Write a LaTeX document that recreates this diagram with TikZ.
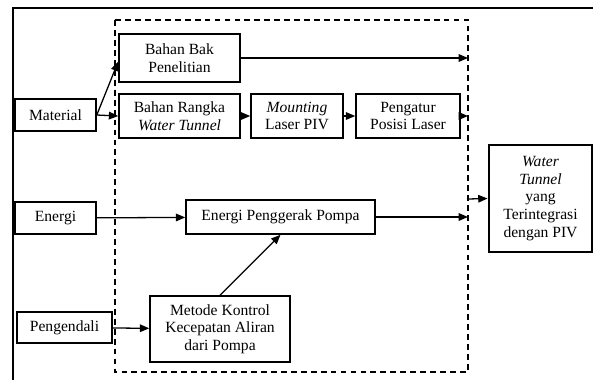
\documentclass[tikz,border=0pt]{standalone}
\usepackage{fontspec}
\setmainfont{Liberation Serif}
\usetikzlibrary{arrows.meta}

\begin{document}
\begin{tikzpicture}[x=0.03cm, y=-0.03cm,
  box/.style={draw, line width=1.3pt, align=center, inner sep=1pt,
    font=\fontsize{13.3}{15}\selectfont},
  arr/.style={line width=1.1pt, -{Triangle[length=8pt,width=6.5pt]}}]

\useasboundingbox (0,0) rectangle (593,380);

% Outer frame (open to the right and bottom)
\draw[line width=1.2pt] (593,8) -- (13,8) -- (13,380);

% Dashed process boundary
\draw[line width=1.4pt, dash pattern=on 5pt off 3.5pt] (115,20) rectangle (468,372);
\coordinate (outA) at (468,58);
\coordinate (outB) at (468,116);
\coordinate (outC) at (468,217);
\coordinate (inWT) at (468,199);

% Inputs
\node[box, minimum width=2.43cm, minimum height=0.96cm] (material) at (55.5,115) {Material};
\node[box, minimum width=2.43cm, minimum height=0.96cm] (energi) at (55.5,218) {Energi};
\node[box, minimum width=2.85cm, minimum height=0.93cm] (pengendali) at (64.5,327.5) {Pengendali};

% Process
\node[box, minimum width=3.63cm, minimum height=1.44cm] (bak) at (179.5,58) {Bahan Bak\\Penelitian};
\node[box, minimum width=3.63cm, minimum height=1.32cm] (rangka) at (179.5,116) {Bahan Rangka\\\textit{Water Tunnel}};
\node[box, minimum width=2.76cm, minimum height=1.32cm] (mounting) at (297,116) {\textit{Mounting}\\Laser PIV};
\node[box, minimum width=3.12cm, minimum height=1.32cm] (pengatur) at (408,116) {Pengatur\\Posisi Laser};
\node[box, minimum width=5.67cm, minimum height=1.02cm] (pompa) at (280.5,217) {Energi Penggerak Pompa};
\node[box, minimum width=4.2cm, minimum height=1.98cm] (kontrol) at (220,329) {Metode Kontrol\\Kecepatan Aliran\\dari Pompa};

% Output
\node[box, line width=2.4pt, minimum width=3.09cm, minimum height=3.21cm] (wt) at (540.5,198.5)
  {\textit{Water}\\\textit{Tunnel}\\yang\\Terintegrasi\\dengan PIV};

% Arrows
\draw[arr] (material.east) -- ([yshift=-3pt]bak.west);
\draw[arr] (material.east) -- (rangka.west);
\draw[arr] (rangka) -- (mounting);
\draw[arr] (mounting) -- (pengatur);
\draw[arr] (pengatur) -- (outB);
\draw[arr] (bak) -- (outA);
\draw[arr] (energi) -- (pompa);
\draw[arr] (pompa) -- (outC);
\draw[arr] (pengendali) -- (kontrol);
\draw[arr] (kontrol.north) -- (pompa.south);
\draw[arr] (inWT) -- (wt.west);

\end{tikzpicture}
\end{document}
